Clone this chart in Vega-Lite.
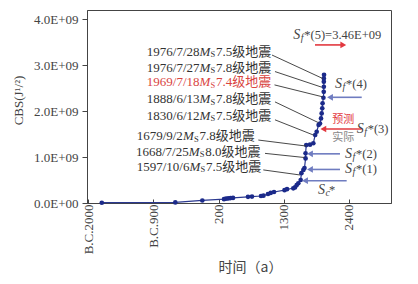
{
  "$schema": "https://vega.github.io/schema/vega-lite/v6.json",
  "width": 304,
  "height": 193,
  "autosize": "none",
  "padding": {"left": 87, "top": 10, "right": 27, "bottom": 81},
  "background": "white",
  "config": {
    "view": {"stroke": "#444", "strokeWidth": 1},
    "font": "Liberation Serif",
    "axis": {"domainColor": "#444", "tickColor": "#444", "labelColor": "#444", "titleColor": "#444", "grid": false, "labelFont": "Liberation Serif", "labelFontSize": 13, "labelFlush": false, "labelOverlap": false}
  },
  "datasets": {
    "curve": [
      {"year": -1770, "cbs": 6e6}, {"year": -530, "cbs": 1.2e7}, {"year": -74, "cbs": 5.5e7},
      {"year": 292, "cbs": 8.3e7}, {"year": 326, "cbs": 9.4e7}, {"year": 364, "cbs": 1.0e8},
      {"year": 402, "cbs": 1.08e8}, {"year": 444, "cbs": 1.1e8}, {"year": 697, "cbs": 1.35e8},
      {"year": 764, "cbs": 1.4e8}, {"year": 916, "cbs": 1.52e8}, {"year": 958, "cbs": 1.6e8},
      {"year": 1034, "cbs": 1.96e8}, {"year": 1080, "cbs": 2.2e8}, {"year": 1136, "cbs": 2.4e8},
      {"year": 1313, "cbs": 2.8e8}, {"year": 1355, "cbs": 3.0e8}, {"year": 1461, "cbs": 3.2e8},
      {"year": 1490, "cbs": 3.4e8}, {"year": 1519, "cbs": 3.9e8}, {"year": 1546, "cbs": 4.3e8},
      {"year": 1586, "cbs": 5.0e8}, {"year": 1597.77, "cbs": 6.5e8}, {"year": 1631, "cbs": 7.2e8},
      {"year": 1650, "cbs": 7.6e8}, {"year": 1668.56, "cbs": 9.7e8}, {"year": 1668.6, "cbs": 1.08e9},
      {"year": 1679.67, "cbs": 1.26e9}, {"year": 1743, "cbs": 1.27e9}, {"year": 1799, "cbs": 1.3e9},
      {"year": 1830.45, "cbs": 1.48e9}, {"year": 1856, "cbs": 1.55e9}, {"year": 1888.45, "cbs": 1.7e9},
      {"year": 1912, "cbs": 1.73e9}, {"year": 1929, "cbs": 1.84e9}, {"year": 1940, "cbs": 1.95e9},
      {"year": 1950, "cbs": 2.06e9}, {"year": 1955, "cbs": 2.17e9}, {"year": 1969.55, "cbs": 2.29e9},
      {"year": 1975.1, "cbs": 2.42e9}, {"year": 1976.57, "cbs": 2.53e9}, {"year": 1976.572, "cbs": 2.64e9},
      {"year": 1977, "cbs": 2.71e9}, {"year": 1980, "cbs": 2.79e9}
    ],
    "leaders": [
      {"x1": 1102, "v1": 3.22e9, "x2": 1957, "v2": 2.71e9},
      {"x1": 1152, "v1": 2.86e9, "x2": 1941, "v2": 2.52e9},
      {"x1": 1144, "v1": 2.57e9, "x2": 1957, "v2": 2.31e9},
      {"x1": 1152, "v1": 2.2e9, "x2": 1883, "v2": 1.75e9},
      {"x1": 1152, "v1": 1.81e9, "x2": 1799, "v2": 1.48e9},
      {"x1": 871, "v1": 1.37e9, "x2": 1676, "v2": 1.24e9},
      {"x1": 984, "v1": 1.08e9, "x2": 1647, "v2": 0.99e9},
      {"x1": 955, "v1": 0.72e9, "x2": 1574, "v2": 0.61e9}
    ],
    "quakes": [
      {"year": -120, "v": 3.29e9, "pre": "1976/7/28", "post": "7.5级地震", "hl": false},
      {"year": -120, "v": 2.94e9, "pre": "1976/7/27", "post": "7.8级地震", "hl": false},
      {"year": -120, "v": 2.63e9, "pre": "1969/7/18", "post": "7.4级地震", "hl": true},
      {"year": -120, "v": 2.26e9, "pre": "1888/6/13", "post": "7.8级地震", "hl": false},
      {"year": -120, "v": 1.9e9, "pre": "1830/6/12", "post": "7.5级地震", "hl": false},
      {"year": -402, "v": 1.45e9, "pre": "1679/9/2", "post": "7.8级地震", "hl": false},
      {"year": -304, "v": 1.12e9, "pre": "1668/7/25", "post": "8.0级地震", "hl": false},
      {"year": -292, "v": 0.79e9, "pre": "1597/10/6", "post": "7.5级地震", "hl": false}
    ],
    "arrows": [
      {"tail": 1827, "tip": 2305, "v": 3.44e9, "group": "pred"},
      {"tail": 2616, "tip": 2081, "v": 2.3e9, "group": "obs"},
      {"tail": 2616, "tip": 1968, "v": 1.61e9, "group": "pred"},
      {"tail": 2249, "tip": 1743, "v": 1.07e9, "group": "obs"},
      {"tail": 2249, "tip": 1743, "v": 0.73e9, "group": "obs"},
      {"tail": 2362, "tip": 1659, "v": 0.485e9, "group": "obs"}
    ],
    "slabels": [
      {"year": 1461, "v": 3.66e9, "sub": "f", "rest": "*(5)=3.46E+09"},
      {"year": 2165, "v": 2.6e9, "sub": "f", "rest": "*(4)"},
      {"year": 2531, "v": 1.61e9, "sub": "f", "rest": "*(3)"},
      {"year": 2334, "v": 1.07e9, "sub": "f", "rest": "*(2)"},
      {"year": 2334, "v": 0.73e9, "sub": "f", "rest": "*(1)"},
      {"year": 1878, "v": 0.28e9, "sub": "c", "rest": "*"}
    ],
    "notes": [
      {"year": 2305, "v": 1.81e9, "txt": "预测", "group": "pred"},
      {"year": 2305, "v": 1.41e9, "txt": "实际", "group": "obs"}
    ]
  },
  "layer": [
    {
      "data": {"name": "curve"},
      "mark": {"type": "line", "color": "#2b3990", "strokeWidth": 1.2},
      "encoding": {
        "x": {"field": "year", "type": "quantitative", "scale": {"domain": [-2020, 3110], "nice": false, "zero": false},
          "axis": {"values": [-2000, -900, 200, 1300, 2400], "labelAngle": 270, "labelExpr": "datum.value < 0 ? 'B.C.' + (-datum.value) : '' + datum.value", "tickSize": -4, "labelPadding": 5, "title": "时间（a）", "titleFont": "Noto Sans CJK SC", "titleFontSize": 14, "titleFontWeight": "normal", "titleX": 163, "titleY": 64, "titleBaseline": "middle"}},
        "y": {"field": "cbs", "type": "quantitative", "scale": {"domain": [0, 4.2e9], "nice": false, "zero": false},
          "axis": {"values": [0, 1e9, 2e9, 3e9, 4e9], "labelExpr": "datum.value == 0 ? '0.0E+00' : format(datum.value / 1e9, '.1f') + 'E+09'", "tickSize": 5, "labelPadding": 4, "title": "CBS(J¹/²)", "titleFontSize": 13, "titleFontWeight": "normal", "titleX": -69, "titleY": 90, "titleBaseline": "middle", "titleAngle": 270}}
      }
    },
    {
      "data": {"name": "curve"},
      "mark": {"type": "circle", "color": "#1b2a8a", "size": 22, "opacity": 1},
      "encoding": {
        "x": {"field": "year", "type": "quantitative", "scale": {"domain": [-2020, 3110], "nice": false, "zero": false}},
        "y": {"field": "cbs", "type": "quantitative", "scale": {"domain": [0, 4.2e9], "nice": false, "zero": false}}
      }
    },
    {
      "data": {"name": "leaders"},
      "mark": {"type": "rule", "color": "#333", "strokeWidth": 0.9},
      "encoding": {
        "x": {"field": "x1", "type": "quantitative", "scale": {"domain": [-2020, 3110], "nice": false, "zero": false}},
        "x2": {"field": "x2"},
        "y": {"field": "v1", "type": "quantitative", "scale": {"domain": [0, 4.2e9], "nice": false, "zero": false}},
        "y2": {"field": "v2"}
      }
    },
    {
      "data": {"name": "arrows"},
      "mark": {"type": "rule", "strokeWidth": 1.6},
      "encoding": {
        "x": {"field": "tail", "type": "quantitative", "scale": {"domain": [-2020, 3110], "nice": false, "zero": false}},
        "x2": {"field": "tip"},
        "y": {"field": "v", "type": "quantitative", "scale": {"domain": [0, 4.2e9], "nice": false, "zero": false}},
        "color": {"condition": {"test": "datum.group == 'pred'", "value": "#e2383f"}, "value": "#6f7cc0"}
      }
    },
    {
      "data": {"name": "arrows"},
      "mark": {"type": "point", "filled": true, "size": 45, "opacity": 1},
      "encoding": {
        "x": {"field": "tip", "type": "quantitative", "scale": {"domain": [-2020, 3110], "nice": false, "zero": false}},
        "y": {"field": "v", "type": "quantitative", "scale": {"domain": [0, 4.2e9], "nice": false, "zero": false}},
        "shape": {"condition": {"test": "datum.tip > datum.tail", "value": "triangle-right"}, "value": "triangle-left"},
        "color": {"condition": {"test": "datum.group == 'pred'", "value": "#e2383f"}, "value": "#6f7cc0"}
      }
    },
    {
      "data": {"name": "quakes"},
      "mark": {"type": "text", "align": "right", "baseline": "middle", "fontSize": 13, "font": "Liberation Serif"},
      "encoding": {
        "x": {"field": "year", "type": "quantitative", "scale": {"domain": [-2020, 3110], "nice": false, "zero": false}},
        "y": {"field": "v", "type": "quantitative", "scale": {"domain": [0, 4.2e9], "nice": false, "zero": false}},
        "text": {"field": "pre"},
        "color": {"condition": {"test": "datum.hl", "value": "#d9453f"}, "value": "#333"}
      }
    },
    {
      "data": {"name": "quakes"},
      "mark": {"type": "text", "align": "left", "baseline": "middle", "fontSize": 13, "font": "Liberation Serif", "fontStyle": "italic", "text": "M"},
      "encoding": {
        "x": {"field": "year", "type": "quantitative", "scale": {"domain": [-2020, 3110], "nice": false, "zero": false}},
        "y": {"field": "v", "type": "quantitative", "scale": {"domain": [0, 4.2e9], "nice": false, "zero": false}},
        "color": {"condition": {"test": "datum.hl", "value": "#d9453f"}, "value": "#333"}
      }
    },
    {
      "data": {"name": "quakes"},
      "mark": {"type": "text", "align": "left", "baseline": "middle", "fontSize": 8.5, "font": "Liberation Serif", "text": "S", "dx": 11, "dy": 2.5},
      "encoding": {
        "x": {"field": "year", "type": "quantitative", "scale": {"domain": [-2020, 3110], "nice": false, "zero": false}},
        "y": {"field": "v", "type": "quantitative", "scale": {"domain": [0, 4.2e9], "nice": false, "zero": false}},
        "color": {"condition": {"test": "datum.hl", "value": "#d9453f"}, "value": "#333"}
      }
    },
    {
      "data": {"name": "quakes"},
      "mark": {"type": "text", "align": "left", "baseline": "middle", "fontSize": 13, "font": "Liberation Serif, Noto Sans CJK SC", "dx": 16.5},
      "encoding": {
        "x": {"field": "year", "type": "quantitative", "scale": {"domain": [-2020, 3110], "nice": false, "zero": false}},
        "y": {"field": "v", "type": "quantitative", "scale": {"domain": [0, 4.2e9], "nice": false, "zero": false}},
        "text": {"field": "post"},
        "color": {"condition": {"test": "datum.hl", "value": "#d9453f"}, "value": "#333"}
      }
    },
    {
      "data": {"name": "slabels"},
      "mark": {"type": "text", "align": "left", "baseline": "middle", "fontSize": 14, "font": "Liberation Serif", "fontStyle": "italic", "text": "S", "color": "#444"},
      "encoding": {
        "x": {"field": "year", "type": "quantitative", "scale": {"domain": [-2020, 3110], "nice": false, "zero": false}},
        "y": {"field": "v", "type": "quantitative", "scale": {"domain": [0, 4.2e9], "nice": false, "zero": false}}
      }
    },
    {
      "data": {"name": "slabels"},
      "mark": {"type": "text", "align": "left", "baseline": "middle", "fontSize": 10, "font": "Liberation Serif", "fontStyle": "italic", "dx": 7.5, "dy": 3, "color": "#444"},
      "encoding": {
        "x": {"field": "year", "type": "quantitative", "scale": {"domain": [-2020, 3110], "nice": false, "zero": false}},
        "y": {"field": "v", "type": "quantitative", "scale": {"domain": [0, 4.2e9], "nice": false, "zero": false}},
        "text": {"field": "sub"}
      }
    },
    {
      "data": {"name": "slabels"},
      "mark": {"type": "text", "align": "left", "baseline": "middle", "fontSize": 12.5, "font": "Liberation Serif", "dx": 11, "color": "#444"},
      "encoding": {
        "x": {"field": "year", "type": "quantitative", "scale": {"domain": [-2020, 3110], "nice": false, "zero": false}},
        "y": {"field": "v", "type": "quantitative", "scale": {"domain": [0, 4.2e9], "nice": false, "zero": false}},
        "text": {"field": "rest"}
      }
    },
    {
      "data": {"name": "notes"},
      "mark": {"type": "text", "align": "center", "baseline": "middle", "fontSize": 11, "font": "Noto Sans CJK SC"},
      "encoding": {
        "x": {"field": "year", "type": "quantitative", "scale": {"domain": [-2020, 3110], "nice": false, "zero": false}},
        "y": {"field": "v", "type": "quantitative", "scale": {"domain": [0, 4.2e9], "nice": false, "zero": false}},
        "text": {"field": "txt"},
        "color": {"condition": {"test": "datum.group == 'pred'", "value": "#e2383f"}, "value": "#888888"}
      }
    }
  ]
}
